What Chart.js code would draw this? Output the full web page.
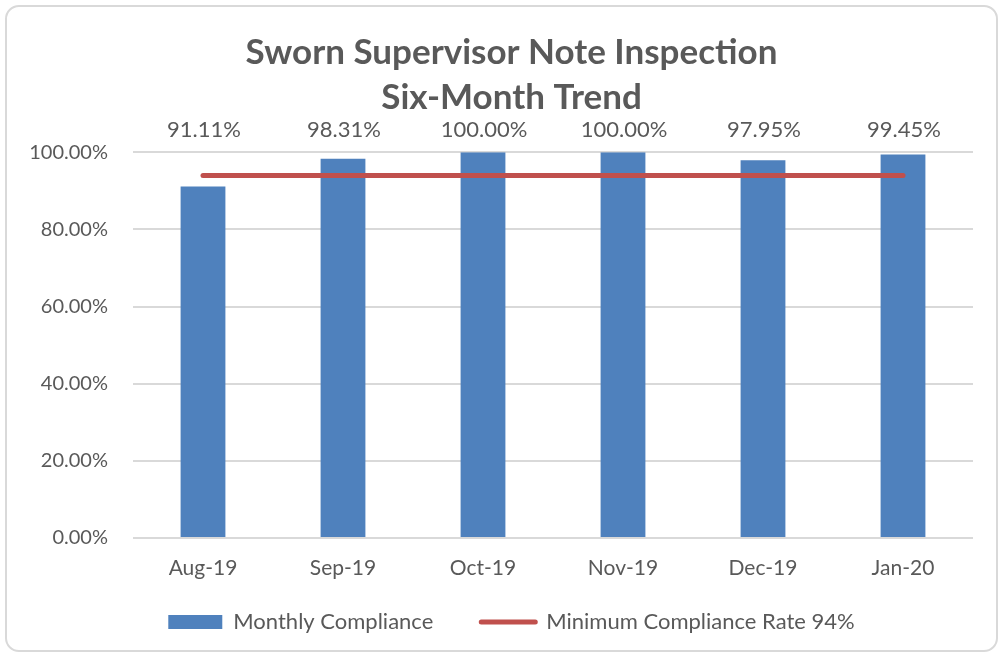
<!DOCTYPE html>
<html>
<head>
<meta charset="utf-8">
<script src="https://cdn.jsdelivr.net/npm/chart.js@4.4.1/dist/chart.umd.min.js"></script>
<style>
  html, body { margin: 0; padding: 0; background: #fff; }
  #wrap {
    position: absolute; left: 5px; top: 5px; width: 993px; height: 647px;
    border: 2px solid #d9d9d9; border-radius: 14px; box-sizing: border-box;
  }
  #chart { position: absolute; left: 0; top: 0; }
</style>
</head>
<body>
<div id="wrap"></div>
<canvas id="chart" width="1003" height="657"></canvas>
<script>
const months = ['Aug-19', 'Sep-19', 'Oct-19', 'Nov-19', 'Dec-19', 'Jan-20'];
const monthlyCompliance = [0.9111, 0.9831, 1.0, 1.0, 0.9795, 0.9945];
const minimumRate = [0.94, 0.94, 0.94, 0.94, 0.94, 0.94];
const yTicks = [0, 0.2, 0.4, 0.6, 0.8, 1.0];

const FONT = 'Lato, "Liberation Sans", sans-serif';
const GREY = '#595959';
const BLUE = '#4f81bd';
const RED = '#c0504d';

const pct = v => (v * 100).toFixed(2) + '%';

// value labels above the plot area
const valueLabels = {
    id: 'valueLabels',
    afterDatasetsDraw(chart) {
        const ctx = chart.ctx;
        const meta = chart.getDatasetMeta(0);
        ctx.save();
        ctx.font = '22px ' + FONT;
        ctx.fillStyle = GREY;
        ctx.textAlign = 'center';
        ctx.textBaseline = 'middle';
        meta.data.forEach((bar, i) => {
            ctx.fillText(pct(monthlyCompliance[i]), bar.x + 1, chart.chartArea.top - 22);
        });
        ctx.restore();
    }
};

new Chart(document.getElementById('chart'), {
    type: 'bar',
    data: {
        labels: months,
        datasets: [{
            label: 'Monthly Compliance',
            data: monthlyCompliance,
            backgroundColor: BLUE,
            barPercentage: 0.64,
            categoryPercentage: 0.5,
            order: 2
        }, {
            label: 'Minimum Compliance Rate 94%',
            type: 'line',
            data: minimumRate,
            borderColor: RED,
            backgroundColor: RED,
            borderWidth: 5,
            borderCapStyle: 'round',
            pointRadius: 0,
            order: 1
        }]
    },
    options: {
        responsive: false,
        animation: false,
        layout: { padding: { left: 50, right: 30, top: 0, bottom: 14 } },
        scales: {
            x: {
                grid: { display: false },
                border: { display: false },
                // legend padding below leaves room, so keep the axis box short
                afterFit: axis => {
                    axis.height = 25;
                    axis._computeLabelArea = () => null;
                },
                ticks: { color: GREY, font: { family: FONT, size: 21 }, padding: 10 }
            },
            y: {
                min: 0,
                max: 1,
                afterBuildTicks: axis => { axis.ticks = yTicks.map(v => ({ value: v })); },
                afterFit: axis => {
                    axis.width = 83;
                    axis._computeLabelArea = () => null; // labels may hang past the box
                },
                grid: { color: '#d9d9d9', lineWidth: 2, drawTicks: false },
                border: { display: false },
                ticks: {
                    color: GREY,
                    font: { family: FONT, size: 20 },
                    padding: 25,
                    callback: v => pct(v)
                }
            }
        },
        plugins: {
            title: {
                display: true,
                text: ['Sworn Supervisor Note Inspection', 'Six-Month Trend'],
                color: GREY,
                font: { family: FONT, size: 35, weight: 'bold', lineHeight: 1.29 },
                padding: { top: 30, bottom: 32 }
            },
            legend: {
                position: 'bottom',
                labels: {
                    color: GREY,
                    font: { family: FONT, size: 22 },
                    usePointStyle: true,
                    pointStyleWidth: 54,
                    boxHeight: 14,
                    padding: 48,
                    generateLabels: chart => chart.data.datasets.map((ds, i) => ({
                        text: ds.label,
                        datasetIndex: i,
                        fillStyle: ds.backgroundColor,
                        strokeStyle: ds.type === 'line' ? ds.borderColor : ds.backgroundColor,
                        lineWidth: ds.type === 'line' ? 5 : 0,
                        lineCap: 'round',
                        pointStyle: ds.type === 'line' ? 'line' : 'rect',
                        fontColor: GREY,
                        hidden: false
                    }))
                }
            },
            tooltip: { enabled: false }
        }
    },
    plugins: [valueLabels]
});
</script>
</body>
</html>
